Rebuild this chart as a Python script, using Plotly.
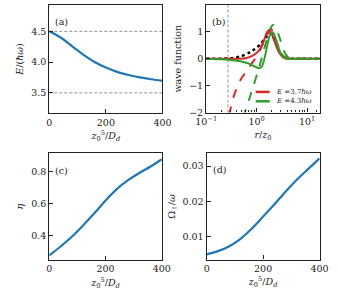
import plotly.graph_objects as go

# ---------------- data ----------------
zD = [0, 40, 80, 120, 160, 200, 240, 280, 320, 360, 400]
energy = [4.50, 4.40, 4.26, 4.12, 4.00, 3.91, 3.84, 3.79, 3.75, 3.72, 3.695]
eta = [0.28, 0.335, 0.395, 0.465, 0.54, 0.62, 0.69, 0.745, 0.79, 0.83, 0.875]
omega = [0.005, 0.0059, 0.0073, 0.0094, 0.0123, 0.0157, 0.0192, 0.0228, 0.0262, 0.0292, 0.0322]
energy_levels = [4.5, 3.5]

r_red_solid = [0.1, 0.2, 0.4, 0.6, 0.8, 1.0, 1.2, 1.4, 1.6, 1.75, 1.9, 2.1, 2.4, 2.8, 3.3, 3.8, 5, 8, 18]
wf_red_solid = [0, 0, 0.0, 0.02, 0.1, 0.22, 0.4, 0.7, 0.98, 1.07, 1.0, 0.8, 0.5, 0.22, 0.06, 0.01, 0, 0, 0]
r_green_solid = [0.1, 0.2, 0.3, 0.5, 0.7, 0.9, 1.1, 1.25, 1.4, 1.6, 1.8, 2.0, 2.2, 2.5, 2.9, 3.4, 4, 6, 18]
wf_green_solid = [0, -0.02, -0.05, -0.1, -0.18, -0.28, -0.35, -0.3, -0.05, 0.45, 0.85, 1.0, 0.92, 0.6, 0.25, 0.07, 0.01, 0, 0]
r_red_dash = [0.28, 0.3, 0.36, 0.48, 0.69, 1.0, 1.2, 1.4, 1.6, 1.8, 1.95, 2.2, 2.5, 2.9, 3.3, 4, 6, 18]
wf_red_dash = [-2.1, -1.9, -1.33, -0.78, -0.35, 0.1, 0.38, 0.64, 0.88, 1.05, 1.1, 0.95, 0.62, 0.3, 0.12, 0.02, 0, 0]
r_green_dash = [0.55, 0.58, 0.69, 0.855, 1.06, 1.31, 1.62, 1.9, 2.15, 2.4, 2.86, 3.5, 4.4, 6, 18]
wf_green_dash = [-2.2, -2.0, -1.58, -1.02, -0.47, 0.15, 0.77, 1.15, 1.26, 1.15, 0.77, 0.27, 0.02, 0, 0]
r_black = [0.1, 0.2, 0.3, 0.4, 0.5, 0.7, 0.9, 1.2, 1.5, 1.75, 1.9, 2.1, 2.4, 2.8, 3.3, 4, 6, 18]
wf_black = [0, 0.0, 0.02, 0.05, 0.1, 0.22, 0.35, 0.55, 0.78, 0.92, 0.95, 0.85, 0.6, 0.3, 0.1, 0.02, 0, 0]
r_mark = 0.27
legend_names = ["<i>E</i> =3.7<i>ħω</i>", "<i>E</i> =4.3<i>ħω</i>"]

BLUE = "#1f77b4"
RED = "#d62728"
GREEN = "#2ca02c"
FONT = "DejaVu Serif"
FINE_DASH = "3px,2px"

fig = go.Figure()

# panel (a)
for lv in energy_levels:
    fig.add_trace(go.Scatter(x=[zD[0], zD[-1]], y=[lv, lv], mode="lines",
                             line=dict(color="#777", width=0.8, dash=FINE_DASH),
                             xaxis="x", yaxis="y", showlegend=False))
fig.add_trace(go.Scatter(x=zD, y=energy, mode="lines", line=dict(color=BLUE, width=2.2, shape="spline"),
                         xaxis="x", yaxis="y", showlegend=False))

# panel (b)
fig.add_trace(go.Scatter(x=[r_mark, r_mark], y=[-2, 2], mode="lines",
                         line=dict(color="#777", width=0.8, dash=FINE_DASH),
                         xaxis="x2", yaxis="y2", showlegend=False))
fig.add_trace(go.Scatter(x=r_black, y=wf_black, mode="lines",
                         line=dict(color="black", width=2.5, dash="dot", shape="spline", smoothing=0.8),
                         xaxis="x2", yaxis="y2", showlegend=False))
fig.add_trace(go.Scatter(x=r_red_dash, y=wf_red_dash, mode="lines",
                         line=dict(color=RED, width=2, dash="dash", shape="spline", smoothing=0.8),
                         xaxis="x2", yaxis="y2", showlegend=False))
fig.add_trace(go.Scatter(x=r_green_dash, y=wf_green_dash, mode="lines",
                         line=dict(color=GREEN, width=2, dash="dash", shape="spline", smoothing=0.8),
                         xaxis="x2", yaxis="y2", showlegend=False))
fig.add_trace(go.Scatter(x=r_red_solid, y=wf_red_solid, mode="lines",
                         line=dict(color=RED, width=2, shape="spline", smoothing=0.8),
                         xaxis="x2", yaxis="y2", showlegend=False))
fig.add_trace(go.Scatter(x=r_green_solid, y=wf_green_solid, mode="lines",
                         line=dict(color=GREEN, width=2, shape="spline", smoothing=0.8),
                         xaxis="x2", yaxis="y2", showlegend=False))

# panel (c)
fig.add_trace(go.Scatter(x=zD, y=eta, mode="lines", line=dict(color=BLUE, width=2.2, shape="spline"),
                         xaxis="x3", yaxis="y3", showlegend=False))
# panel (d)
fig.add_trace(go.Scatter(x=zD, y=omega, mode="lines", line=dict(color=BLUE, width=2.2, shape="spline"),
                         xaxis="x4", yaxis="y4", showlegend=False))

W, H = 338, 300
def dx(a, b):
    return [a / W, b / W]
def dy(top, bot):
    return [1 - bot / H, 1 - top / H]

axcommon = dict(showline=True, mirror=True, linecolor="#222", linewidth=1.3, ticks="inside",
                ticklen=4, tickwidth=1, tickcolor="#222", showgrid=False, zeroline=False,
                tickfont=dict(family=FONT, size=9.5, color="#222"))
xtitle = "<i>z</i><sub>0</sub><sup>5</sup>/<i>D<sub>d</sub></i>"
tf = dict(size=9.5)

fig.update_layout(
    width=W, height=H, margin=dict(l=0, r=0, t=0, b=0),
    paper_bgcolor="white", plot_bgcolor="white", showlegend=False,
    font=dict(family=FONT, size=9.5, color="#222"),
    xaxis=dict(domain=dx(40.7, 161), anchor="y", range=[0, 400], tickvals=[0, 200, 400],
               title=dict(text=xtitle, font=tf, standoff=5), **axcommon),
    yaxis=dict(domain=dy(5, 115), anchor="x", range=[3.17, 4.93], tickvals=[3.5, 4.0, 4.5],
               ticktext=["3.5", "4.0", "4.5"],
               title=dict(text="<i>E</i>/(<i>ħω</i>)", font=tf, standoff=5), **axcommon),
    xaxis2=dict(domain=dx(207.5, 328), anchor="y2", type="log", range=[-1, 1.246],
                tickvals=[0.1, 1, 10], ticktext=["10<sup>−1</sup>", "10<sup>0</sup>", "10<sup>1</sup>"],
                minor=dict(ticks="inside", ticklen=2.5, tickcolor="#222",
                           tickvals=[0.2, 0.3, 0.4, 0.5, 0.6, 0.7, 0.8, 0.9,
                                     2, 3, 4, 5, 6, 7, 8, 9, 15]),
                title=dict(text="<i>r</i>/<i>z</i><sub>0</sub>", font=tf, standoff=5), **axcommon),
    yaxis2=dict(domain=dy(5, 114.5), anchor="x2", range=[-2, 2], tickvals=[-2, -1, 0, 1, 2],
                ticktext=["−2", "−1", "0", "1", "2"],
                title=dict(text="wave function", font=tf, standoff=5), **axcommon),
    xaxis3=dict(domain=dx(40.7, 160.3), anchor="y3", range=[0, 400], tickvals=[0, 200, 400],
                title=dict(text=xtitle, font=tf, standoff=5), **axcommon),
    yaxis3=dict(domain=dy(156, 264.3), anchor="x3", range=[0.252, 0.911], tickvals=[0.4, 0.6, 0.8],
                title=dict(text="<i>η</i>", font=tf, standoff=5), **axcommon),
    xaxis4=dict(domain=dx(208, 328), anchor="y4", range=[0, 400], tickvals=[0, 200, 400],
                title=dict(text=xtitle, font=tf, standoff=5), **axcommon),
    yaxis4=dict(domain=dy(156, 264), anchor="x4", range=[0.0035, 0.0336], tickvals=[0.01, 0.02, 0.03],
                title=dict(text="Ω<sub>↑</sub>/<i>ω</i>", font=tf, standoff=5), **axcommon),
)

# manual legend inside panel (b)
leg_colors = [RED, GREEN]
leg_y = [0.192, 0.105]
for name, col, yy in zip(legend_names, leg_colors, leg_y):
    fig.add_shape(type="line", xref="x2 domain", yref="y2 domain", x0=0.436, x1=0.56, y0=yy, y1=yy,
                  line=dict(color=col, width=2.5))
    fig.add_annotation(text=name, xref="x2 domain", yref="y2 domain", x=0.6, y=yy,
                       xanchor="left", yanchor="middle", showarrow=False,
                       font=dict(family=FONT, size=7, color="#222"))

labels = [("(a)", "x", "y", 0.035, 0.845), ("(b)", "x2", "y2", 0.035, 0.845),
          ("(c)", "x3", "y3", 0.03, 0.836), ("(d)", "x4", "y4", 0.035, 0.85)]
for t, xa, ya, xx, yy in labels:
    fig.add_annotation(text=t, xref=xa + " domain", yref=ya + " domain", x=xx, y=yy,
                       xanchor="left", yanchor="middle", showarrow=False,
                       font=dict(family=FONT, size=9.5, color="#222"))

fig.write_html("out.html", config={"displayModeBar": False},
               post_script="document.body.style.margin='0';")
